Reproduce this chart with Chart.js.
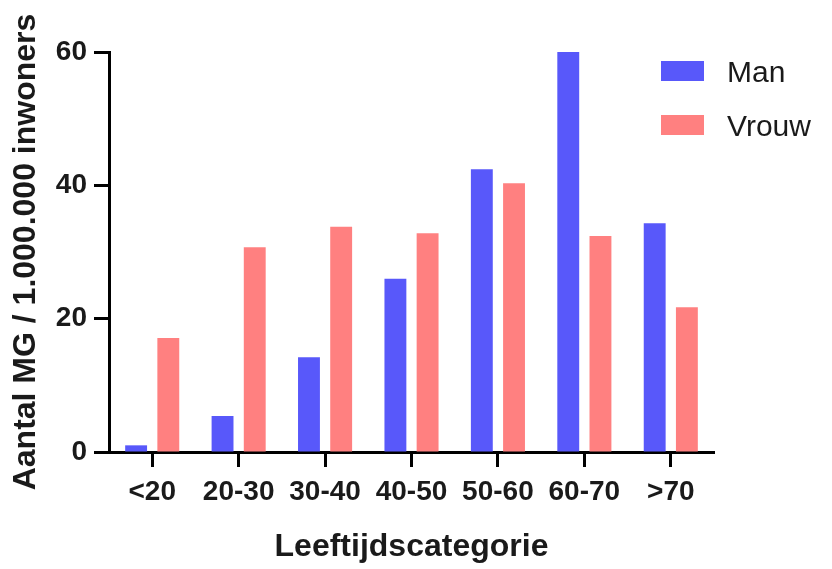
<!DOCTYPE html>
<html>
<head>
<meta charset="utf-8">
<script src="https://cdn.jsdelivr.net/npm/chart.js@4.4.1/dist/chart.umd.min.js"></script>
<style>
  html, body { margin: 0; padding: 0; background: #fff; }
  #wrap { width: 832px; height: 569px; }
</style>
</head>
<body>
<div id="wrap"><canvas id="chart" width="832" height="569"></canvas></div>
<script>
// DATA -----------------------------------------------------------------------

const categories = ['<20', '20-30', '30-40', '40-50', '50-60', '60-70', '>70'];
const manValues = [1, 5.4, 14.2, 26, 42.4, 60, 34.3];
const vrouwValues = [17.1, 30.7, 33.8, 32.8, 40.3, 32.4, 21.7];
const yTicks = [0, 20, 40, 60];

const seriesNames = {man: 'Man', vrouw: 'Vrouw'};
const seriesColors = {man: '#5858FA', vrouw: '#FF8080'};

// SETTINGS -------------------------------------------------------------------

const fontFamily = '"Liberation Sans", Arial, Helvetica, sans-serif';
const textColor = '#1a1a1a';

function getBarDataset(type, data) {
    return {
        label: seriesNames[type],
        data: data,
        backgroundColor: seriesColors[type],
        borderWidth: 0,
        categoryPercentage: 0.745,
        barPercentage: 0.68
    }
}

// legend sits on top of the plot, right side
const sideLegend = {
    id: 'sideLegend',
    afterDraw(chart) {
        const ctx = chart.ctx;
        ctx.save();
        ctx.font = `30px ${fontFamily}`;
        ctx.textBaseline = 'alphabetic';
        chart.data.datasets.forEach((ds, i) => {
            const top = 61 + i * 54;
            ctx.fillStyle = ds.backgroundColor;
            ctx.fillRect(661, top, 43, 20);
            ctx.fillStyle = textColor;
            ctx.fillText(ds.label, 727, top + 21);
        });
        ctx.restore();
    }
}

// CHART ----------------------------------------------------------------------

new Chart(document.getElementById('chart'), {
    type: 'bar',
    data: {
        labels: categories,
        datasets: [
            getBarDataset('man', manValues),
            getBarDataset('vrouw', vrouwValues)
        ]
    },
    plugins: [sideLegend],
    options: {
        responsive: false,
        animation: false,
        devicePixelRatio: 1,
        layout: {
            padding: {top: 52, right: 118, left: 0, bottom: 0}
        },
        plugins: {
            legend: {display: false},
            tooltip: {enabled: false}
        },
        scales: {
            x: {
                afterFit: (scale) => { scale.height = 117 },
                grid: {
                    offset: false,
                    drawOnChartArea: false,
                    drawTicks: true,
                    tickLength: 15,
                    tickWidth: 3,
                    tickColor: '#000'
                },
                border: {color: '#000', width: 3},
                ticks: {
                    color: textColor,
                    padding: 8,
                    maxRotation: 0,
                    autoSkip: false,
                    font: {family: fontFamily, size: 28, weight: 'bold'}
                },
                title: {
                    display: true,
                    text: 'Leeftijdscategorie',
                    color: textColor,
                    padding: {top: 0, bottom: 3},
                    font: {family: fontFamily, size: 32, weight: 'bold'}
                }
            },
            y: {
                min: yTicks[0],
                max: yTicks[yTicks.length - 1],
                afterFit: (scale) => { scale.width = 109 },
                afterBuildTicks: (scale) => { scale.ticks = yTicks.map(v => ({value: v})) },
                grid: {
                    drawOnChartArea: false,
                    drawTicks: true,
                    tickLength: 15,
                    tickWidth: 3,
                    tickColor: '#000'
                },
                border: {color: '#000', width: 3},
                ticks: {
                    color: textColor,
                    padding: 7,
                    font: {family: fontFamily, size: 28, weight: 'bold'}
                },
                title: {
                    display: true,
                    text: 'Aantal MG / 1.000.000 inwoners',
                    color: textColor,
                    padding: {top: 7, bottom: 0},
                    font: {family: fontFamily, size: 32, weight: 'bold'}
                }
            }
        }
    }
});
</script>
</body>
</html>
